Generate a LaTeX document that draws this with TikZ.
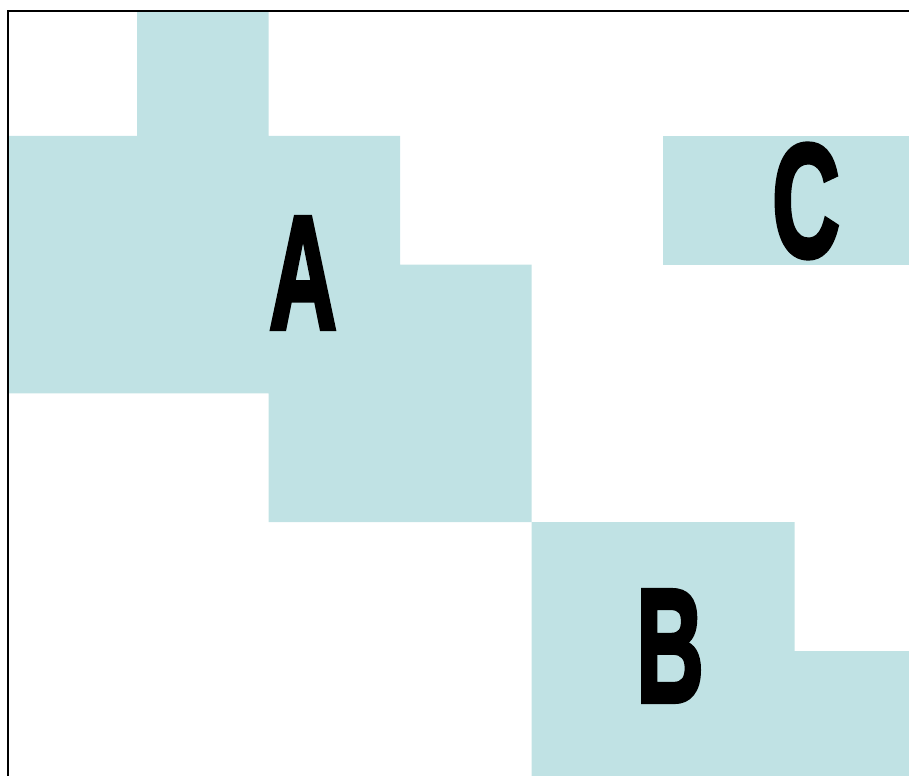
\documentclass[tikz,border=0pt]{standalone}
\usepackage{fontspec}
\usetikzlibrary{positioning}
\newfontface\regionfont[FakeBold=3]{Liberation Sans Bold}
\definecolor{RegionFill}{HTML}{C0E2E4}
\newcommand{\regionletter}[1]{\scalebox{0.58}[1]{#1}}

\begin{document}
\begin{tikzpicture}[x=0.02cm,y=-0.02cm]
    \tikzset{regionlabel/.style={font=\regionfont\fontsize{92}{92}\selectfont,inner sep=0pt}}
    \useasboundingbox (0,0) rectangle (909,776);
    \begin{scope}
      \clip (8,11) rectangle (909,776);
      % region A
      \fill[RegionFill] (137,7) -- (268.5,7) -- (268.5,135.8) -- (400,135.8) -- (400,264.6) -- (531.5,264.6)
        -- (531.5,522.2) -- (268.5,522.2) -- (268.5,393.4) -- (5.5,393.4) -- (5.5,135.8) -- (137,135.8) -- cycle;
      % region C
      \fill[RegionFill] (663,135.8) rectangle (926,264.6);
      % region B
      \fill[RegionFill] (531.5,522.2) -- (794.5,522.2) -- (794.5,651) -- (926,651) -- (926,780) -- (531.5,780) -- cycle;
    \end{scope}
    \draw[line width=1.6pt] (8,776) -- (8,11) -- (909,11);
    \node[regionlabel] (labA) at (303,273) {\regionletter{A}};
    \node[regionlabel] (labB) at (670,646) {\regionletter{B}};
    \node[regionlabel] (labC) at (806,201) {\regionletter{C}};
  \end{tikzpicture}
\end{document}
